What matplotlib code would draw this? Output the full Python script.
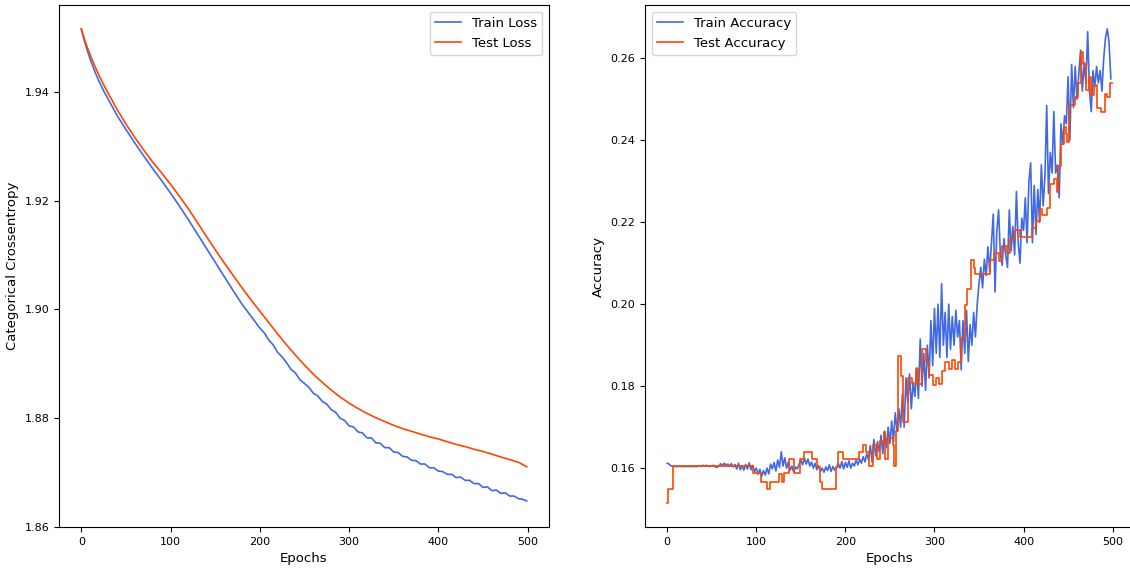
import matplotlib.pyplot as plt

# loss curves (last point is epoch 499)
test_loss_epochs = [0, 3, 6, 10, 15, 20, 25, 30, 40, 50, 60, 70, 80, 90, 100, 110, 120,
                    130, 140, 150, 160, 170, 180, 190, 200, 210, 220, 230, 240, 250, 260,
                    270, 280, 290, 300, 310, 320, 330, 340, 350, 360, 370, 380, 390, 400,
                    410, 420, 430, 440, 450, 460, 470, 480, 490, 499]
test_loss = [1.9516, 1.9500, 1.9485, 1.9468, 1.9448, 1.9430, 1.9413, 1.9398, 1.9368,
             1.9341, 1.9316, 1.9293, 1.9271, 1.9251, 1.9230, 1.9208, 1.9185, 1.9160,
             1.9135, 1.9110, 1.9086, 1.9063, 1.9040, 1.9018, 1.8997, 1.8976, 1.8955,
             1.8935, 1.8916, 1.8898, 1.8881, 1.8866, 1.8852, 1.8839, 1.8828, 1.8818,
             1.8809, 1.8801, 1.8794, 1.8787, 1.8781, 1.8776, 1.8771, 1.8766, 1.8762,
             1.8757, 1.8752, 1.8748, 1.8743, 1.8739, 1.8734, 1.8729, 1.8724, 1.8719,
             1.8711]

train_loss_epochs = [0, 3, 6, 10, 15, 20, 25, 30, 40, 50, 60, 70, 80, 90, 100, 110, 120,
                     130, 140, 150, 160, 170, 180, 190,
                     200, 205, 210, 215, 220, 225, 230, 235, 240, 245, 250, 255, 260, 265,
                     270, 275, 280, 285, 290, 295, 300, 305, 310, 315, 320, 325, 330, 335,
                     340, 345, 350, 355, 360, 365, 370, 375, 380, 385, 390, 395, 400, 405,
                     410, 415, 420, 425, 430, 435, 440, 445, 450, 455, 460, 465, 470, 475,
                     480, 485, 490, 495, 499]
train_loss = [1.9515, 1.9497, 1.9480, 1.9460, 1.9438, 1.9419, 1.9402, 1.9387, 1.9357,
              1.9331, 1.9306, 1.9282, 1.9259, 1.9237, 1.9214, 1.9190, 1.9165, 1.9139,
              1.9113, 1.9087, 1.9061, 1.9035, 1.9010, 1.8988,
              1.8966, 1.8957, 1.8944, 1.8935, 1.8921, 1.8913, 1.8902, 1.8890, 1.8883,
              1.8871, 1.8864, 1.8857, 1.8846, 1.8841, 1.8831, 1.8826, 1.8816, 1.8811,
              1.8800, 1.8796, 1.8786, 1.8784, 1.8775, 1.8773, 1.8764, 1.8764, 1.8755,
              1.8754, 1.8746, 1.8746, 1.8738, 1.8737, 1.8730, 1.8729, 1.8723, 1.8722,
              1.8716, 1.8716, 1.8709, 1.8709, 1.8703, 1.8702, 1.8697, 1.8697, 1.8691,
              1.8692, 1.8686, 1.8686, 1.8680, 1.8680, 1.8673, 1.8674, 1.8667, 1.8668,
              1.8662, 1.8663, 1.8657, 1.8657, 1.8652, 1.8651, 1.8648]

# train accuracy, every 2 epochs (0..498)
train_acc_epochs = list(range(0, 500, 2))
train_acc = [
    0.1612, 0.1610, 0.1606, 0.1604, 0.1604, 0.1604, 0.1604, 0.1604, 0.1604, 0.1604,
    0.1604, 0.1604, 0.1604, 0.1604, 0.1604, 0.1604, 0.1604, 0.1604, 0.1606, 0.1604,
    0.1607, 0.1605, 0.1607, 0.1604, 0.1606, 0.1605, 0.1607, 0.1603, 0.1602, 0.1605,
    0.1611, 0.1606, 0.1612, 0.1607, 0.1610, 0.1605, 0.1611, 0.1603, 0.1609, 0.1598,
    0.1612, 0.1596, 0.1606, 0.1595, 0.1609, 0.1598, 0.1613, 0.1596, 0.1607, 0.1592,
    0.1600, 0.1585, 0.1597, 0.1580, 0.1594, 0.1583, 0.1600, 0.1586, 0.1610, 0.1598,
    0.1614, 0.1593, 0.1620, 0.1602, 0.1640, 0.1605, 0.1625, 0.1600, 0.1615, 0.1595,
    0.1605, 0.1590, 0.1603, 0.1598, 0.1610, 0.1620, 0.1608, 0.1625, 0.1610, 0.1622,
    0.1605, 0.1615, 0.1600, 0.1612, 0.1596, 0.1606, 0.1592, 0.1600, 0.1590, 0.1603,
    0.1594, 0.1608, 0.1592, 0.1604, 0.1595, 0.1602, 0.1612, 0.1600, 0.1616, 0.1598,
    0.1614, 0.1602, 0.1618, 0.1600, 0.1612, 0.1605, 0.1620, 0.1608, 0.1622, 0.1612,
    0.1628, 0.1615, 0.1635, 0.1620, 0.1655, 0.1615, 0.1670, 0.1630, 0.1665, 0.1640,
    0.1680, 0.1635, 0.1690, 0.1650, 0.1700, 0.1660, 0.1715, 0.1665, 0.1735, 0.1690,
    0.1745, 0.1700, 0.1780, 0.1700, 0.1820, 0.1760, 0.1830, 0.1745, 0.1810, 0.1775,
    0.1845, 0.1770, 0.1915, 0.1800, 0.1880, 0.1790, 0.1900, 0.1820, 0.1960, 0.1850,
    0.1990, 0.1880, 0.2000, 0.1870, 0.2050, 0.1900, 0.1980, 0.1870, 0.2000, 0.1890,
    0.1970, 0.1900, 0.1985, 0.1920, 0.1960, 0.1840, 0.1960, 0.1880, 0.1985, 0.1860,
    0.1950, 0.1900, 0.1980, 0.1920, 0.2000, 0.2050, 0.2090, 0.2040, 0.2110, 0.2070,
    0.2140, 0.2080, 0.2150, 0.2220, 0.2030, 0.2180, 0.2230, 0.2120, 0.2095, 0.2160,
    0.2120, 0.2090, 0.2230, 0.2130, 0.2190, 0.2120, 0.2275, 0.2150, 0.2100, 0.2210,
    0.2180, 0.2260, 0.2150, 0.2300, 0.2345, 0.2150, 0.2290, 0.2170, 0.2280, 0.2200,
    0.2340, 0.2240, 0.2310, 0.2485, 0.2270, 0.2370, 0.2320, 0.2470, 0.2320, 0.2340,
    0.2260, 0.2440, 0.2390, 0.2460, 0.2440, 0.2555, 0.2400, 0.2585, 0.2480, 0.2580,
    0.2500, 0.2560, 0.2620, 0.2520, 0.2590, 0.2540, 0.2665, 0.2520, 0.2470, 0.2570,
    0.2530, 0.2580, 0.2540, 0.2570, 0.2520, 0.2600, 0.2650, 0.2672, 0.2640, 0.2550,
]

# test accuracy changes in steps: epoch where each new value starts
test_acc_epochs = [0, 1, 6, 96, 105, 112, 115, 125, 129, 131, 137, 142, 149, 153, 163,
                   168, 171, 174, 189, 192, 197, 215, 220, 223, 227, 231, 236, 239, 243,
                   245, 248, 253, 255, 257, 259, 262, 265, 270, 275, 279, 282, 286, 290,
                   294, 298, 302, 305, 308, 312, 316, 320, 323, 326, 330, 334, 337, 341,
                   344, 346, 362, 367, 372, 376, 381, 385, 390, 396, 410, 414, 418, 421,
                   426, 430, 434, 437, 439, 442, 445, 448, 449, 451, 458, 461, 464, 467,
                   470, 473, 476, 479, 483, 487, 491, 494, 497, 499]
test_acc = [0.1514, 0.1550, 0.1604, 0.1587, 0.1567, 0.1550, 0.1567, 0.1585, 0.1567,
            0.1587, 0.1622, 0.1587, 0.1622, 0.1640, 0.1622, 0.1603, 0.1567, 0.1550,
            0.1603, 0.1640, 0.1622, 0.1640, 0.1657, 0.1640, 0.1604, 0.1656, 0.1622,
            0.1665, 0.1687, 0.1622, 0.1673, 0.1656, 0.1604, 0.1690, 0.1873, 0.1824,
            0.1713, 0.1820, 0.1806, 0.1841, 0.1806, 0.1890, 0.1859, 0.1828, 0.1802,
            0.1820, 0.1806, 0.1837, 0.1859, 0.1841, 0.1864, 0.1841, 0.1859, 0.1917,
            0.1997, 0.2036, 0.2107, 0.2089, 0.2074, 0.2107, 0.2125, 0.2105, 0.2143,
            0.2125, 0.2160, 0.2182, 0.2163, 0.2187, 0.2204, 0.2233, 0.2218, 0.2235,
            0.2293, 0.2306, 0.2275, 0.2337, 0.2390, 0.2433, 0.2415, 0.2395, 0.2485,
            0.2505, 0.2541, 0.2616, 0.2585, 0.2523, 0.2554, 0.2510, 0.2536, 0.2479,
            0.2470, 0.2514, 0.2505, 0.2541, 0.2541]

blue = 'royalblue'
red = 'orangered'

fig = plt.figure(figsize=(11.3, 5.68), dpi=100)
ax1 = fig.add_axes([0.0522, 0.072, 0.4336, 0.919])
ax2 = fig.add_axes([0.5708, 0.072, 0.4327, 0.919])

ax1.plot(train_loss_epochs, train_loss, color=blue, lw=1.2, label='Train Loss')
ax1.plot(test_loss_epochs, test_loss, color=red, lw=1.2, label='Test Loss')
ax1.set_xlabel('Epochs', fontsize=9.5)
ax1.set_ylabel('Categorical Crossentropy', fontsize=9.5)
ax1.set_yticks([1.86, 1.88, 1.90, 1.92, 1.94])
ax1.legend(loc='upper right', fontsize=9.5)

ax2.plot(train_acc_epochs, train_acc, color=blue, lw=1.2, label='Train Accuracy')
ax2.plot(test_acc_epochs, test_acc, color=red, lw=1.2, drawstyle='steps-post',
         label='Test Accuracy')
ax2.set_xlabel('Epochs', fontsize=9.5)
ax2.set_ylabel('Accuracy', fontsize=9.5)
ax2.legend(loc='upper left', fontsize=9.5)

for ax in (ax1, ax2):
    ax.set_xticks([0, 100, 200, 300, 400, 500])
    ax.tick_params(labelsize=8)

fig.savefig('out.png', dpi=100)
